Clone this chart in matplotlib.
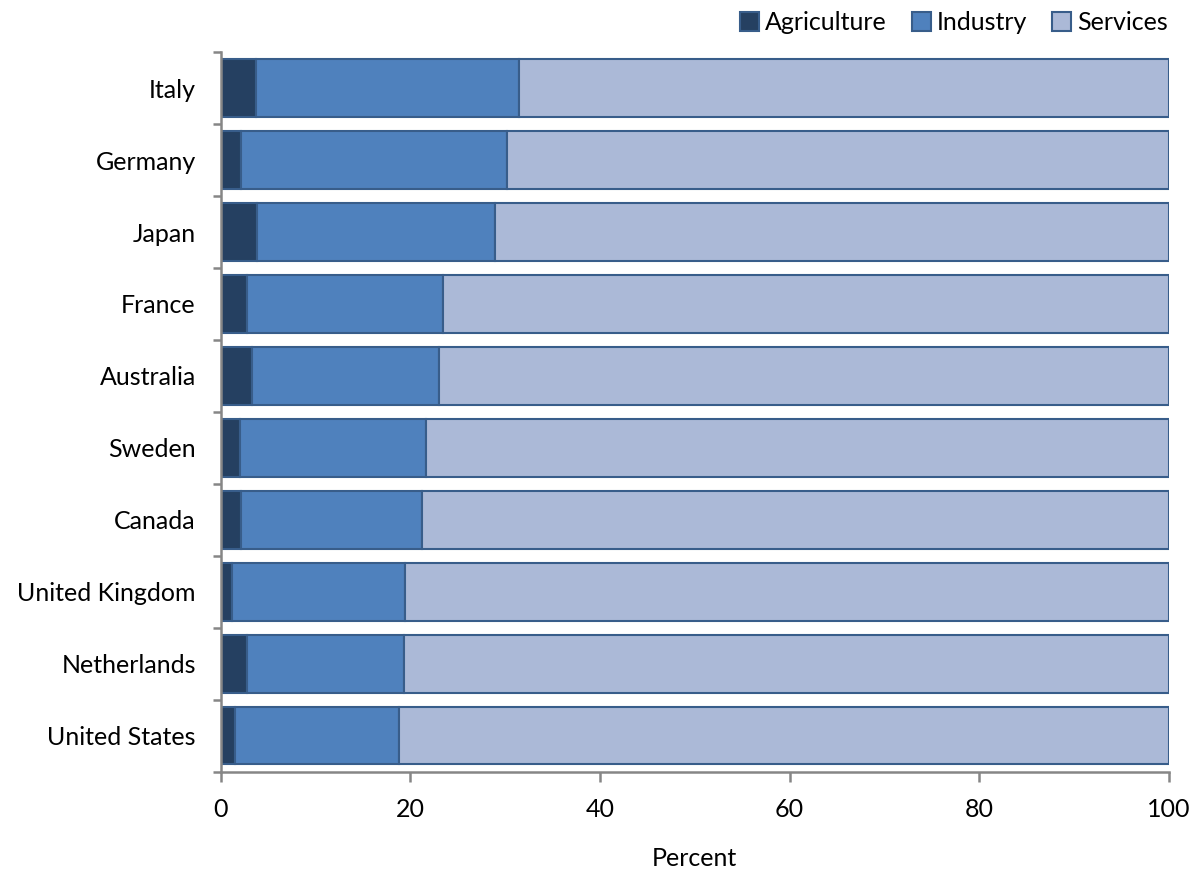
import matplotlib
matplotlib.use("Agg")
import matplotlib.pyplot as plt
import numpy as np
from matplotlib.patches import Patch

plt.rcParams['font.family'] = ['Lato', 'DejaVu Sans']

countries = ["Italy", "Germany", "Japan", "France", "Australia",
             "Sweden", "Canada", "United Kingdom", "Netherlands", "United States"]
agriculture = [3.7, 2.1, 3.8, 2.8, 3.3, 2.0, 2.1, 1.2, 2.8, 1.5]
industry = [27.8, 28.1, 25.1, 20.6, 19.7, 19.6, 19.1, 18.2, 16.5, 17.3]
services = [68.5, 69.8, 71.1, 76.6, 77.0, 78.4, 78.8, 80.6, 80.7, 81.2]

series_names = ["Agriculture", "Industry", "Services"]
fills = ["#254061", "#4f81bd", "#abb9d7"]
edge = "#385d8a"
axis_grey = "#868686"

fig = plt.figure(figsize=(12, 8.69), dpi=100)
ax = fig.add_axes([0.184, 0.112, 0.79, 0.828])

y = np.arange(len(countries))[::-1]
left = np.zeros(len(countries))
for name, vals, col in zip(series_names, [agriculture, industry, services], fills):
    ax.barh(y, vals, left=left, height=0.8, color=col, edgecolor=edge,
            linewidth=1.5, label=name)
    left = left + np.array(vals)

ax.set_xlim(0, 100)
ax.set_ylim(-0.5, len(countries) - 0.5)
ax.set_xticks(np.arange(0, 101, 20))
ax.set_yticks(y)
ax.set_yticklabels(countries)
ax.set_yticks(np.arange(-0.5, len(countries), 1), minor=True)
ax.tick_params(axis='y', which='major', length=0, pad=18, labelsize=18)
ax.tick_params(axis='y', which='minor', length=6, width=1.8, color=axis_grey, direction='out')
ax.tick_params(axis='x', length=7, width=1.8, color=axis_grey, labelsize=18, pad=12)
for s in ['top', 'right']:
    ax.spines[s].set_visible(False)
for s in ['left', 'bottom']:
    ax.spines[s].set_color(axis_grey)
    ax.spines[s].set_linewidth(1.8)
ax.set_xlabel("Percent", fontsize=18, labelpad=19)

handles = [Patch(facecolor=c, edgecolor=edge, linewidth=1.5) for c in fills]
fig.legend(handles, series_names, ncol=3, loc='upper right',
           bbox_to_anchor=(0.992, 1.013), frameon=False, fontsize=18,
           handlelength=0.75, handleheight=0.75, handletextpad=0.25,
           columnspacing=1.0)

fig.savefig("out.png", dpi=100, facecolor='white')
